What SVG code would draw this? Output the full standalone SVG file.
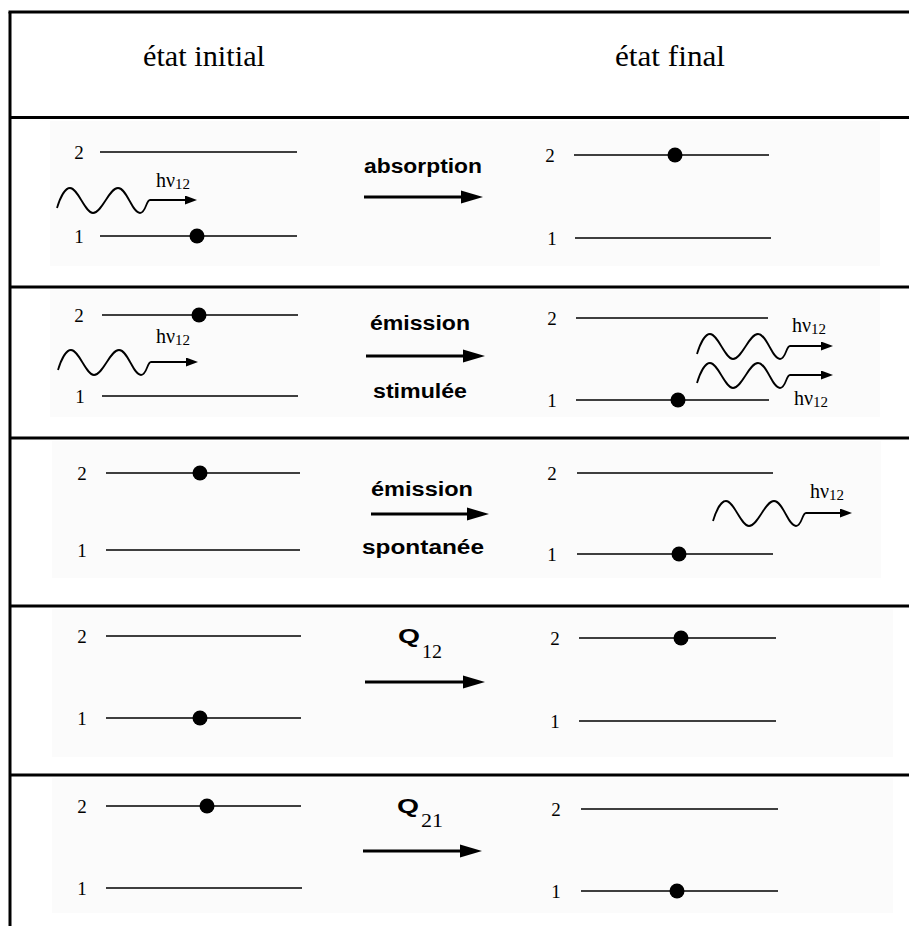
<svg xmlns="http://www.w3.org/2000/svg" width="909" height="926" viewBox="0 0 909 926">
<style>
.border{stroke:#000;stroke-width:3;fill:none}
.bg{fill:#fbfbfb}
.lvl{stroke:#000;stroke-width:1.6}
.dot{fill:#000}
.num{font-family:"Liberation Serif","Times New Roman",serif;font-size:19px;fill:#000;text-anchor:middle}
.head{font-family:"Liberation Serif","Times New Roman",serif;font-size:30px;fill:#000}
.proc{font-family:"Liberation Sans",Arial,sans-serif;font-weight:bold;font-size:20px;fill:#000}
.hv{font-family:"Liberation Serif","Times New Roman",serif;font-size:20px;fill:#000}
.sub{font-size:15px}
.qsub{font-family:"Liberation Serif","Times New Roman",serif;font-size:19px;fill:#000}
.wave{stroke:#000;stroke-width:1.8;fill:none}
.parrow{stroke:#000;stroke-width:2;fill:none;marker-end:url(#photonHead)}
.tarrow{stroke:#000;stroke-width:3;fill:none;marker-end:url(#bigHead)}
</style>
<defs>
<marker id="bigHead" markerUnits="userSpaceOnUse" viewBox="0 0 22 14" markerWidth="22" markerHeight="14" refX="7" refY="7" orient="auto">
<path d="M0,0.5 L22,7 L0,13.5 z" fill="#000"/>
</marker>
<marker id="photonHead" markerUnits="userSpaceOnUse" viewBox="0 0 12 9" markerWidth="12" markerHeight="9" refX="4" refY="4.5" orient="auto">
<path d="M0,0 L12,4.5 L0,9 z" fill="#000"/>
</marker>
<path id="wave" class="wave" d="M0,8 C3,-2 8,-12 13,-12 C21,-12 28,13 36,13 C45,13 52,-12 61,-12 C70,-12 75,13 83,13 C89,13 89,0 93,0"/>
</defs>

<rect width="909" height="926" fill="#fff"/>

<g id="backgrounds">
<rect class="bg" x="50" y="121" width="830" height="145"/>
<rect class="bg" x="50" y="290" width="830" height="127"/>
<rect class="bg" x="52" y="441" width="829" height="137"/>
<rect class="bg" x="52" y="609" width="841" height="148"/>
<rect class="bg" x="52" y="778" width="841" height="135"/>
</g>

<g id="table">
<line class="border" x1="8.5" y1="12" x2="909" y2="12"/>
<line class="border" x1="10" y1="12" x2="10" y2="926"/>
<line class="border" x1="10" y1="117.5" x2="909" y2="117.5"/>
<line class="border" x1="10" y1="287" x2="909" y2="287"/>
<line class="border" x1="10" y1="438" x2="909" y2="438"/>
<line class="border" x1="10" y1="606" x2="909" y2="606"/>
<line class="border" x1="10" y1="775" x2="909" y2="775"/>
</g>

<g id="header">
<text class="head" x="143" y="66" textLength="122" lengthAdjust="spacingAndGlyphs">état initial</text>
<text class="head" x="615" y="66" textLength="110" lengthAdjust="spacingAndGlyphs">état final</text>
</g>

<!-- Row 1: absorption -->
<g id="r1-initial">
<text class="num" x="79" y="159">2</text>
<line class="lvl" x1="100" y1="152" x2="297" y2="152"/>
<text class="num" x="79" y="243">1</text>
<line class="lvl" x1="100" y1="236" x2="297" y2="236"/>
<circle class="dot" cx="197" cy="236" r="7.5"/>
<use href="#wave" x="57" y="200"/>
<line class="parrow" x1="150" y1="200" x2="189" y2="200"/>
<text class="hv" x="156" y="187">hν<tspan class="sub" dy="2">12</tspan></text>
</g>
<g id="r1-process">
<text class="proc" x="364" y="173" textLength="118" lengthAdjust="spacingAndGlyphs">absorption</text>
</g>
<g id="r1-final">
<text class="num" x="550" y="162">2</text>
<line class="lvl" x1="574" y1="155" x2="769" y2="155"/>
<circle class="dot" cx="675" cy="155" r="7.5"/>
<text class="num" x="552" y="245">1</text>
<line class="lvl" x1="575" y1="238" x2="771" y2="238"/>
</g>

<!-- Row 2: émission stimulée -->
<g id="r2-initial">
<text class="num" x="79" y="322">2</text>
<line class="lvl" x1="102" y1="315" x2="298" y2="315"/>
<circle class="dot" cx="199" cy="315" r="7.5"/>
<text class="num" x="80" y="403">1</text>
<line class="lvl" x1="102" y1="396" x2="298" y2="396"/>
<use href="#wave" x="58" y="362"/>
<line class="parrow" x1="151" y1="362" x2="190" y2="362"/>
<text class="hv" x="156" y="343">hν<tspan class="sub" dy="2">12</tspan></text>
</g>
<g id="r2-process">
<text class="proc" x="370" y="330" textLength="100" lengthAdjust="spacingAndGlyphs">émission</text>
<text class="proc" x="373" y="398" textLength="94" lengthAdjust="spacingAndGlyphs">stimulée</text>
</g>
<g id="r2-final">
<text class="num" x="552" y="325">2</text>
<line class="lvl" x1="576" y1="318" x2="768" y2="318"/>
<text class="num" x="552" y="407">1</text>
<line class="lvl" x1="576" y1="400" x2="769" y2="400"/>
<circle class="dot" cx="678" cy="400" r="7.5"/>
<use href="#wave" x="697" y="346"/>
<line class="parrow" x1="790" y1="346" x2="825" y2="346"/>
<text class="hv" x="792" y="332">hν<tspan class="sub" dy="2">12</tspan></text>
<use href="#wave" x="697" y="375"/>
<line class="parrow" x1="790" y1="375" x2="825" y2="375"/>
<text class="hv" x="794" y="405">hν<tspan class="sub" dy="2">12</tspan></text>
</g>

<!-- Row 3: émission spontanée -->
<g id="r3-initial">
<text class="num" x="82" y="480">2</text>
<line class="lvl" x1="106" y1="473" x2="300" y2="473"/>
<circle class="dot" cx="200" cy="473" r="7.5"/>
<text class="num" x="82" y="557">1</text>
<line class="lvl" x1="106" y1="550" x2="300" y2="550"/>
</g>
<g id="r3-process">
<text class="proc" x="371" y="496" textLength="102" lengthAdjust="spacingAndGlyphs">émission</text>
<text class="proc" x="362" y="554" textLength="122" lengthAdjust="spacingAndGlyphs">spontanée</text>
</g>
<g id="r3-final">
<text class="num" x="552" y="480">2</text>
<line class="lvl" x1="577" y1="473" x2="773" y2="473"/>
<text class="num" x="552" y="561">1</text>
<line class="lvl" x1="577" y1="554" x2="773" y2="554"/>
<circle class="dot" cx="679" cy="554" r="7.5"/>
<use href="#wave" x="713" y="513"/>
<line class="parrow" x1="806" y1="513" x2="844" y2="513"/>
<text class="hv" x="810" y="498">hν<tspan class="sub" dy="2">12</tspan></text>
</g>

<!-- Row 4: Q12 -->
<g id="r4-initial">
<text class="num" x="82" y="643">2</text>
<line class="lvl" x1="106" y1="636" x2="301" y2="636"/>
<text class="num" x="82" y="725">1</text>
<line class="lvl" x1="106" y1="718" x2="301" y2="718"/>
<circle class="dot" cx="200" cy="718" r="7.5"/>
</g>
<g id="r4-process">
<text class="proc" x="398" y="643" font-size="21" textLength="22" lengthAdjust="spacingAndGlyphs">Q</text>
<text class="qsub" x="422" y="658" textLength="20" lengthAdjust="spacingAndGlyphs">12</text>
</g>
<g id="r4-final">
<text class="num" x="555" y="645">2</text>
<line class="lvl" x1="579" y1="638" x2="776" y2="638"/>
<circle class="dot" cx="681" cy="638" r="7.5"/>
<text class="num" x="555" y="728">1</text>
<line class="lvl" x1="579" y1="721" x2="776" y2="721"/>
</g>

<!-- Row 5: Q21 -->
<g id="r5-initial">
<text class="num" x="82" y="813">2</text>
<line class="lvl" x1="106" y1="806" x2="301" y2="806"/>
<circle class="dot" cx="207" cy="806" r="7.5"/>
<text class="num" x="82" y="895">1</text>
<line class="lvl" x1="106" y1="888" x2="302" y2="888"/>
</g>
<g id="r5-process">
<text class="proc" x="397" y="813" font-size="21" textLength="22" lengthAdjust="spacingAndGlyphs">Q</text>
<text class="qsub" x="421" y="827" textLength="22" lengthAdjust="spacingAndGlyphs">21</text>
</g>
<g id="r5-final">
<text class="num" x="556" y="816">2</text>
<line class="lvl" x1="581" y1="809" x2="778" y2="809"/>
<text class="num" x="556" y="898">1</text>
<line class="lvl" x1="581" y1="891" x2="778" y2="891"/>
<circle class="dot" cx="677" cy="891" r="7.5"/>
</g>

<g id="connectors">
<line class="tarrow" x1="364" y1="197" x2="468" y2="197"/>
<line class="tarrow" x1="366" y1="356" x2="470" y2="356"/>
<line class="tarrow" x1="371" y1="514" x2="474" y2="514"/>
<line class="tarrow" x1="365" y1="682" x2="470" y2="682"/>
<line class="tarrow" x1="363" y1="851" x2="467" y2="851"/>
</g>
</svg>
